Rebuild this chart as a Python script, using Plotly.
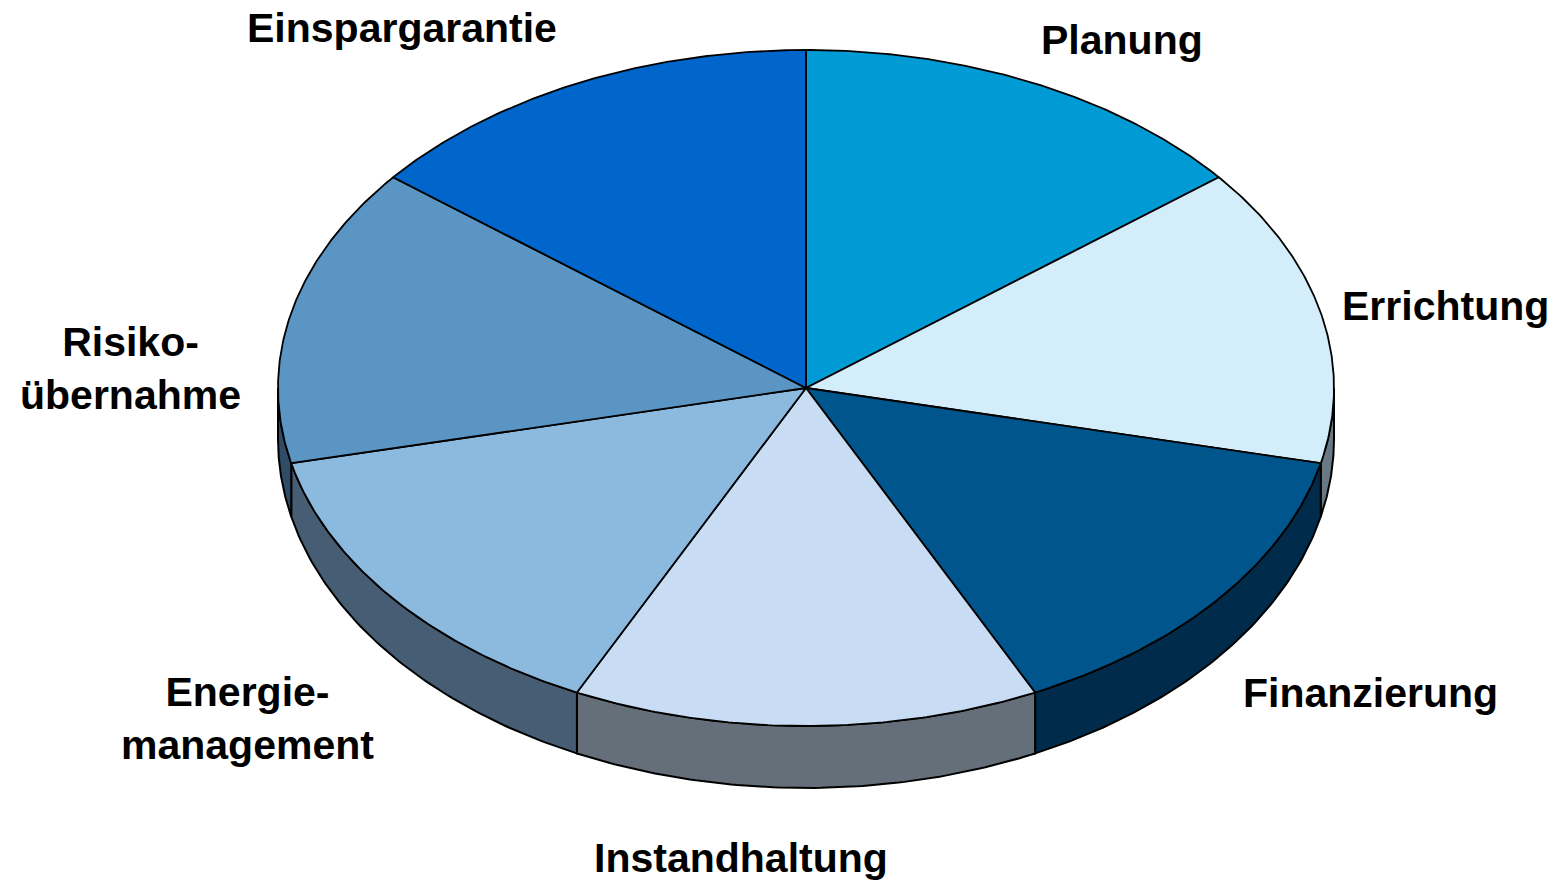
import numpy as np
import plotly.graph_objects as go

# ---- data ----
categories = ["Planung", "Errichtung", "Finanzierung", "Instandhaltung",
              "Energiemanagement", "Risikoübernahme", "Einspargarantie"]
label_texts = ["Planung", "Errichtung", "Finanzierung", "Instandhaltung",
               "Energie-<br>management", "Risiko-<br>übernahme", "Einspargarantie"]
values = [1, 1, 1, 1, 1, 1, 1]

# ---- styles ----
top_colors = ["#009bd5", "#d4edfa", "#00558c", "#c8ddf3", "#8cb9de", "#5b95c4", "#0066cc"]
side_colors = ["#006e99", "#687984", "#002b4b", "#646f7a", "#475d73", "#2f4b66", "#004a93"]

W, H = 1554, 880
CX, CY = 806, 388          # pie centre (px)
RX, RY = 528, 338          # top ellipse radii
DEPTH = 51                 # wall offset at the sides
RY_B = 349                 # bottom ellipse vertical radius

label_pos = [(1122, 40), (1445, 306), (1370, 693), (741, 858),
             (247, 718), (130, 368), (402, 28)]

fig = go.Figure()

total = float(sum(values))
bounds = np.concatenate([[0.0], np.cumsum(values) / total * 360.0])


def top_pt(t):
    r = np.radians(t)
    return CX + RX * np.sin(r), CY - RY * np.cos(r)


def bot_pt(t):
    r = np.radians(t)
    return CX + RX * np.sin(r), CY + DEPTH - RY_B * np.cos(r)


# walls (visible front half: 90..270 deg)
for i, name in enumerate(categories):
    a, b = bounds[i], bounds[i + 1]
    lo, hi = max(a, 90.0), min(b, 270.0)
    if hi <= lo:
        continue
    ts = np.linspace(lo, hi, 80)
    xt, yt = top_pt(ts)
    xb, yb = bot_pt(ts[::-1])
    xs = np.concatenate([xt, xb, xt[:1]])
    ys = np.concatenate([yt, yb, yt[:1]])
    fig.add_trace(go.Scatter(x=xs, y=ys, mode="lines", fill="toself",
                             fillcolor=side_colors[i],
                             line=dict(color="black", width=2),
                             hoverinfo="text", text=name, showlegend=False))

# top faces
for i, name in enumerate(categories):
    a, b = bounds[i], bounds[i + 1]
    ts = np.linspace(a, b, 120)
    xt, yt = top_pt(ts)
    xs = np.concatenate([[CX], xt, [CX]])
    ys = np.concatenate([[CY], yt, [CY]])
    fig.add_trace(go.Scatter(x=xs, y=ys, mode="lines", fill="toself",
                             fillcolor=top_colors[i],
                             line=dict(color="black", width=1.8),
                             hoverinfo="text", text=f"{name}: {values[i]}",
                             showlegend=False))

for txt, (lx, ly) in zip(label_texts, label_pos):
    fig.add_annotation(x=lx, y=ly, text=f"<b>{txt}</b>", showarrow=False,
                       xanchor="center", yanchor="middle",
                       font=dict(family="Liberation Sans, Arial, sans-serif",
                                 size=41, color="black"))

fig.update_xaxes(range=[0, W], visible=False, showgrid=False, zeroline=False, fixedrange=True)
fig.update_yaxes(range=[H, 0], visible=False, showgrid=False, zeroline=False, fixedrange=True)
fig.update_layout(width=W, height=H, margin=dict(l=0, r=0, t=0, b=0),
                  paper_bgcolor="white", plot_bgcolor="white")

fig.write_html("out.html", config={"displayModeBar": False},
               post_script="document.body.style.margin='0';document.body.style.overflow='hidden';")
